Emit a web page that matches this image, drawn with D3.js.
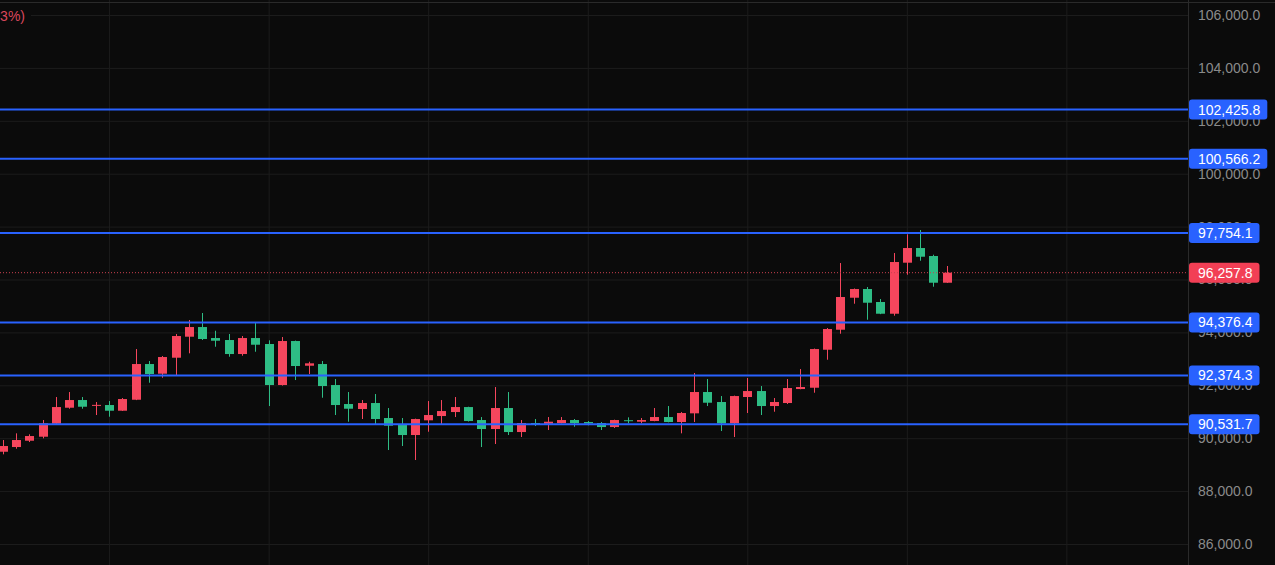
<!DOCTYPE html>
<html><head><meta charset="utf-8">
<script src="https://cdn.jsdelivr.net/npm/d3@7"></script>
<style>html,body{margin:0;padding:0;background:#0b0b0b;overflow:hidden}
text{font-family:"Liberation Sans",Arial,sans-serif}</style>
</head><body><svg id="c" width="1275" height="565"></svg>
<script>
// OHLC per candle (red = rising, green = falling)
const open  = [89488,89666,89904,90056,90547,91152,91443,91240,91254,91039,91454,92804,92438,93043,93837,94203,93787,93712,93182,93787,93561,92010,93674,92740,92804,92010,91292,91103,91330,90763,90498,90120,90676,90838,90989,91178,90687,90347,91141,90233,90574,90547,90574,90687,90611,90574,90422,90680,90623,90649,90800,90611,90940,91746,91368,90562,91557,91783,91216,91330,91859,91908,93345,94101,95311,95640,95149,94706,96635,97190,96888,95878];
const high  = [89931,90184,90147,90687,91557,91746,91557,91368,91405,91519,93371,92918,93107,93939,94468,94733,94063,93939,93863,94381,93700,93825,93690,92891,92918,92237,91746,91443,91670,91141,90763,90740,91405,91443,91557,91190,90800,91935,91746,90687,90725,90800,90800,90725,90649,90611,90700,90789,90763,91141,91216,90989,92464,92237,91594,91610,92275,91972,91519,92237,92615,93390,94166,96623,95660,95716,95262,97001,97708,97871,96937,96510];
const low   = [89390,89602,89855,89995,90500,91114,91114,90876,90812,91030,91440,92097,92286,92351,93209,93712,93458,93080,93118,93269,91216,91990,92199,92426,91530,90876,90623,90725,90536,89553,89704,89175,90245,90536,90800,90630,89666,89780,90120,90044,90460,90309,90560,90434,90487,90309,90385,90562,90562,90640,90600,90184,90611,91216,90271,90044,90952,90876,91001,91292,91850,91719,92967,93950,95084,94479,94690,94631,96181,96710,95727,95870];
const close = [89704,89931,90082,90562,91178,91443,91190,91260,91039,91481,92804,92426,93069,93863,94203,93750,93685,93182,93787,93534,92010,93674,92729,92831,91972,91254,91114,91330,90725,90472,90120,90725,90876,91027,91178,90649,90347,91141,90233,90574,90540,90623,90687,90574,90562,90422,90687,90660,90687,90800,90611,90952,91746,91341,90562,91594,91783,91216,91368,91897,91935,93371,94128,95338,95640,95122,94706,96661,97190,96861,95878,96257.8];

const priceTicks = [86000,88000,90000,92000,94000,96000,98000,100000,102000,104000,106000];
const levels = [102425.8,100566.2,97754.1,94376.4,92374.3,90531.7];
const lastPrice = 96257.8;
const gridCandles = [8,20,32,44,56,68,80];
const legendText = "(+0.43%)";

const W = 1275, H = 565, plotR = 1188;
const UP = "#f6465d", DOWN = "#2ebd85", BLUE = "#2962ff", GRID = "#1c1c1c";
const svg = d3.select("#c");
svg.append("rect").attr("width", W).attr("height", H).attr("fill", "#0b0b0b");

const x = d3.scaleLinear().domain([-0.203, 89.147]).range([0, plotR]);
const y = d3.scaleLinear().domain([86000, 106000]).range([544, 15]);

// grid
const gy = svg.append("g").call(d3.axisRight(y).tickValues(priceTicks).tickSize(plotR).tickFormat(""));
gy.select(".domain").remove();
gy.selectAll("line").attr("stroke", GRID);
const gx = svg.append("g").call(d3.axisBottom(x).tickValues(gridCandles).tickSize(H).tickFormat(""));
gx.select(".domain").remove();
gx.selectAll("line").attr("stroke", GRID);

svg.append("line").attr("x1", 0).attr("x2", W).attr("y1", 2.5).attr("y2", 2.5).attr("stroke", "#2a2a2a");
svg.append("line").attr("x1", plotR + 0.5).attr("x2", plotR + 0.5).attr("y1", 0).attr("y2", H).attr("stroke", "#2a2a2a");

// candles
const data = open.map((o, i) => ({i, o, h: high[i], l: low[i], c: close[i]}));
const bw = 9;
const cg = svg.append("g");
cg.selectAll("line.w").data(data).join("line")
  .attr("x1", d => Math.round(x(d.i)) + 0.5).attr("x2", d => Math.round(x(d.i)) + 0.5)
  .attr("y1", d => y(d.h)).attr("y2", d => y(d.l))
  .attr("stroke", d => d.c >= d.o ? UP : DOWN).attr("stroke-width", 1);
cg.selectAll("rect").data(data).join("rect")
  .attr("x", d => Math.round(x(d.i)) + 0.5 - bw / 2).attr("width", bw)
  .attr("y", d => y(Math.max(d.o, d.c)))
  .attr("height", d => Math.max(1, Math.abs(y(d.o) - y(d.c))))
  .attr("fill", d => d.c >= d.o ? UP : DOWN);

// last price dotted line
svg.append("line").attr("x1", 0).attr("x2", plotR).attr("y1", y(lastPrice)).attr("y2", y(lastPrice))
  .attr("stroke", "#c9404f").attr("stroke-width", 1).attr("stroke-dasharray", "1,2");

// level lines
svg.append("g").selectAll("line").data(levels).join("line")
  .attr("x1", 0).attr("x2", plotR).attr("y1", d => y(d)).attr("y2", d => y(d))
  .attr("stroke", BLUE).attr("stroke-width", 2);

// price axis
const fmt = d3.format(",.1f");
const ax = svg.append("g").attr("transform", `translate(${plotR},0)`)
  .call(d3.axisRight(y).tickValues(priceTicks).tickSize(0).tickPadding(10).tickFormat(fmt));
ax.select(".domain").remove();
ax.selectAll("text").attr("fill", "#8a8a8a").attr("font-size", 14).attr("font-family", "Liberation Sans, Arial, sans-serif");

// labels
function tag(v, color) {
  const g = svg.append("g").attr("transform", `translate(${plotR + 1},${y(v)})`);
  const t = g.append("text").attr("x", 9).attr("dy", "0.36em").attr("fill", "#fff")
    .attr("font-size", 14).text(fmt(v));
  const w = t.node().getComputedTextLength();
  g.insert("rect", "text").attr("x", 0).attr("y", -10).attr("width", w + 16).attr("height", 20)
    .attr("rx", 3).attr("fill", color);
}
levels.forEach(v => tag(v, BLUE));
tag(lastPrice, "#f23f55");

// legend fragment
svg.append("rect").attr("x", 0).attr("y", 6).attr("width", 31).attr("height", 22).attr("fill", "#0b0b0b");
svg.append("text").attr("x", 25).attr("y", 21).attr("text-anchor", "end").attr("fill", "#d9475c")
  .attr("font-size", 14).text(legendText);
</script></body></html>
